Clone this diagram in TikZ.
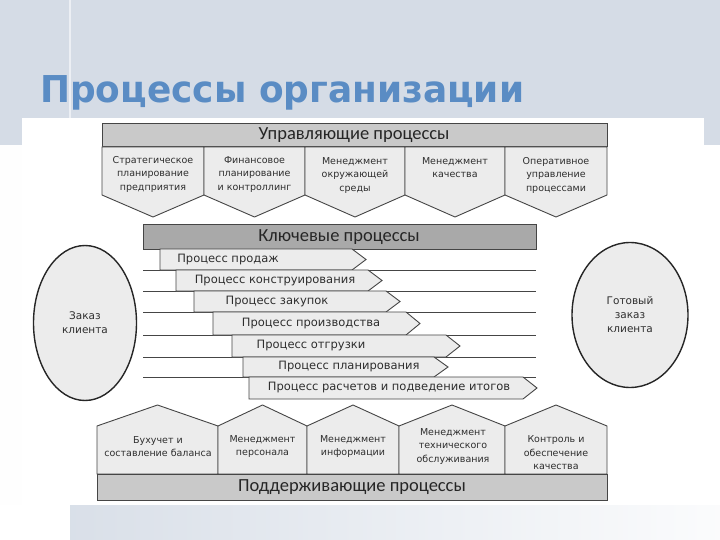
\documentclass[tikz,border=0pt]{standalone}
\usepackage{fontspec}
\setmainfont{DejaVu Sans}
\newfontfamily\barfont{Carlito}
\usetikzlibrary{shapes.geometric}
\definecolor{bgblue}{HTML}{D5DCE6}
\definecolor{titleblue}{HTML}{5A8CC4}
\definecolor{edge}{HTML}{454545}
\definecolor{lightfill}{HTML}{ECECEC}
\definecolor{barfill}{HTML}{C9C9C9}
\definecolor{keyfill}{HTML}{A9A9A9}
\definecolor{txt}{HTML}{2E2E2E}
\tikzset{
  shapebox/.style={draw=edge, fill=lightfill, line width=0.9pt, line join=miter},
  barbox/.style={draw=edge, fill=barfill, line width=1pt},
  keybox/.style={draw=edge, fill=keyfill, line width=1pt},
  sepline/.style={draw=edge, line width=1pt},
  lbl/.style={font=\fontsize{9.5}{13.5}\selectfont, align=center, text=txt, inner sep=0pt},
  arrlbl/.style={font=\fontsize{11.5}{13}\selectfont, text=txt, inner sep=0pt},
  barlbl/.style={font=\barfont\fontsize{18.5}{20}\selectfont, text=black!85, inner sep=0pt},
  ovalbox/.style={ellipse, draw=black!85, fill=lightfill, line width=1.4pt, inner sep=0pt, align=center, text=txt, font=\fontsize{10.5}{14}\selectfont}
}
\begin{document}
\begin{tikzpicture}[x=1pt,y=-1pt]
\useasboundingbox (0,0) rectangle (720,540);
% background
\fill[white] (0,0) rectangle (720,540);
\fill[bgblue] (0,0) rectangle (720,145);
\fill[white!97!bgblue] (0,145) rectangle (22,505);
\shade[left color=bgblue!90, right color=white!90!bgblue] (70,505) rectangle (720,540);
\draw[white!55!bgblue, line width=1.2pt] (70,0) -- (70,118);
\fill[white] (22,118) rectangle (704,505);
% title
\node[anchor=base west, text=titleblue, font=\bfseries\fontsize{37}{40}\selectfont, inner sep=0pt] (title) at (40,103) {\scalebox{0.97}[1]{Процессы организации}};
% top bar
\draw[barbox] (102,124) rectangle (607,147);
\node[barlbl] (mgmt) at (354,135.5) {Управляющие процессы};
% top pentagons
\foreach \a/\b in {102/204,204/305,305/405,405/505,505/607}{
  \draw[shapebox] (\a,147) -- (\b,147) -- (\b,195) -- ({(\a+\b)/2},217) -- (\a,195) -- cycle;
}
\node[lbl, anchor=north] (m1) at (153,156) {Стратегическое\\планирование\\предприятия};
\node[lbl, anchor=north] (m2) at (254.5,156) {Финансовое\\планирование\\и контроллинг};
\node[lbl, anchor=north] (m3) at (355,157) {Менеджмент\\окружающей\\среды};
\node[lbl, anchor=north] (m4) at (455,157) {Менеджмент\\качества};
\node[lbl, anchor=north] (m5) at (556,157) {Оперативное\\управление\\процессами};
% key bar
\draw[keybox] (143,225) rectangle (536,249);
\node[barlbl] (key) at (339,237) {Ключевые процессы};
% separator lines
\foreach \y in {270,291,312,335,357,377}{
  \draw[sepline] (143,\y) -- (536,\y);
}
% process arrows
\foreach \L/\T/\ya/\yb/\cx/\n/\txt in {
  160/366/249/270/228/p1/Процесс продаж,
  176/382/270/291/275/p2/Процесс конструирования,
  194/400/291/312/277/p3/Процесс закупок,
  213/420/312/335/311/p4/Процесс производства,
  232/460/335/357/311/p5/Процесс отгрузки,
  243/448/357/377/349/p6/Процесс планирования,
  249/537/377/399/389/p7/Процесс расчетов и подведение итогов}{
  \draw[shapebox] (\L,\ya) -- ({\T-14},\ya) -- (\T,{(\ya+\yb)/2}) -- ({\T-14},\yb) -- (\L,\yb) -- cycle;
  \node[arrlbl] (\n) at (\cx,{(\ya+\yb)/2}) {\txt};
}
% ellipses
\node[ovalbox, minimum width=103pt, minimum height=155pt] (order) at (85,323) {Заказ\\клиента};
\node[ovalbox, minimum width=116pt, minimum height=145pt] (done) at (630,315) {Готовый\\заказ\\клиента};
% bottom houses
\foreach \a/\b in {97/218,218/307,307/399,399/505,505/607}{
  \draw[shapebox] (\a,474) -- (\a,426) -- ({(\a+\b)/2},405) -- (\b,426) -- (\b,474) -- cycle;
}
\node[lbl] (s1) at (158,446.5) {Бухучет и\\составление баланса};
\node[lbl] (s2) at (262.5,446.5) {Менеджмент\\персонала};
\node[lbl] (s3) at (353,446.5) {Менеджмент\\информации};
\node[lbl] (s4) at (453,446.5) {Менеджмент\\технического\\обслуживания};
\node[lbl] (s5) at (556,453) {Контроль и\\обеспечение\\качества};
% bottom bar
\draw[barbox] (97,474) rectangle (607,500);
\node[barlbl] (support) at (352,487) {Поддерживающие процессы};
\end{tikzpicture}
\end{document}
